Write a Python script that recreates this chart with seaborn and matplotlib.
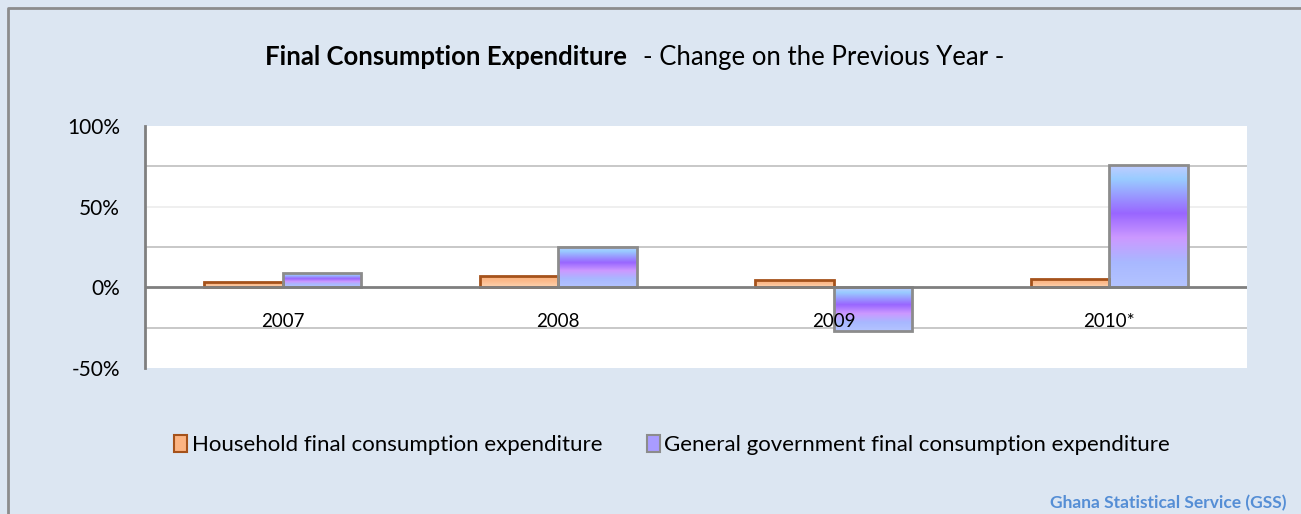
import numpy as np
import pandas as pd
import matplotlib.pyplot as plt
import seaborn as sns
from matplotlib.colors import LinearSegmentedColormap
from matplotlib.patches import Patch
from matplotlib.lines import Line2D

years = ['2007', '2008', '2009', '2010*']
household = [3.0, 6.8, 4.3, 4.9]
government = [8.6, 25.3, -27.0, 76.0]
series = ['Household final consumption expenditure',
          'General government final consumption expenditure']

df = pd.DataFrame({
    'year': years * 2,
    'value': household + government,
    'series': [series[0]] * 4 + [series[1]] * 4,
})

sns.set_style('white')
plt.rcParams['font.family'] = ['Lato', 'DejaVu Sans']
plt.rcParams['text.color'] = 'black'
plt.rcParams['ytick.color'] = 'black'

bg = '#dce6f2'
fig = plt.figure(figsize=(13.01, 5.14), dpi=100, facecolor=bg, edgecolor=bg, linewidth=0)
# outer border: only top and left edges are inside the picture
bx, by = 8 / 1301, 1 - 8 / 514
fig.lines.append(Line2D([bx, bx, 1.0], [0.0, by, by], transform=fig.transFigure,
                        color='#8c8c8c', linewidth=2))
ax = fig.add_axes([145 / 1301, 1 - 368 / 514, (1247 - 145) / 1301, (368 - 126) / 514])
ax.set_facecolor('white')

sns.barplot(data=df, x='year', y='value', hue='series', order=years, hue_order=series,
            palette=['#fcb482', '#a9b4ff'], width=0.57, gap=0, ax=ax, legend=False,
            zorder=3)

# gradient fills clipped to each bar
gov_cmap = LinearSegmentedColormap.from_list('gov', [
    (0.0, '#c4ccff'), (0.12, '#99ccff'), (0.4, '#9966ff'), (0.6, '#cc99ff'),
    (0.8, '#a8b8ff'), (1.0, '#b4c4ff')])
hh_cmap = LinearSegmentedColormap.from_list('hh', ['#fbb07a', '#fcbc8e', '#fdd3b0'])
grad = np.linspace(0, 1, 256).reshape(-1, 1)

for cont, cmap, ec in zip(ax.containers, [hh_cmap, gov_cmap], ['#a5521b', '#8c8c8c']):
    for p in cont.patches:
        x0, w = p.get_x(), p.get_width()
        y0, h = p.get_y(), p.get_height()
        lo, hi = min(y0, y0 + h), max(y0, y0 + h)
        p.set_facecolor('none')
        p.set_edgecolor(ec)
        p.set_linewidth(2)
        p.set_zorder(4)
        im = ax.imshow(grad, cmap=cmap, aspect='auto', origin='upper',
                       extent=(x0, x0 + w, lo, hi), zorder=3)
        im.set_clip_path(p)

ax.set_xlim(-0.5, 3.5)
ax.set_ylim(-50, 100)
ax.set_yticks([-50, 0, 50, 100])
ax.set_yticklabels(['-50%', '0%', '50%', '100%'])
ax.tick_params(axis='y', length=0, pad=18, labelsize=15)
ax.set_xticks([])
ax.set_xlabel('')
ax.set_ylabel('')

for yv, c in [(75, '#bfbfbf'), (50, '#ececec'), (25, '#bfbfbf'), (-25, '#bfbfbf')]:
    ax.axhline(yv, color=c, linewidth=1.2, zorder=1)
ax.axhline(0, color='#7f7f7f', linewidth=2, zorder=5)

for s in ['top', 'right', 'bottom']:
    ax.spines[s].set_visible(False)
ax.spines['left'].set_color('#7f7f7f')
ax.spines['left'].set_linewidth(2)

for i, yr in enumerate(years):
    ax.text(i, -21, yr, ha='center', va='center', fontsize=13.5, zorder=6)

# title
t1 = fig.text(265 / 1301, 1 - 57 / 514, 'Final Consumption Expenditure', fontsize=18.5,
              fontweight='bold', ha='left', va='center')
fig.canvas.draw()
bb = t1.get_window_extent()
fig.text((bb.x1 + 16) / 1301, 1 - 57 / 514, '- Change on the Previous Year -',
         fontsize=18.5, ha='left', va='center')

handles = [Patch(facecolor='#fcb482', edgecolor='#a5521b', linewidth=1.5),
           Patch(facecolor='#a99cff', edgecolor='#8c8c8c', linewidth=1.5)]
fig.legend(handles, series, loc='center', bbox_to_anchor=(672 / 1301, 1 - 445 / 514),
           ncol=2, frameon=False, fontsize=16, handlelength=0.6, handleheight=0.8,
           handletextpad=0.2, columnspacing=2.0)

fig.text(1287 / 1301, 1 - 503 / 514, 'Ghana Statistical Service (GSS)', ha='right',
         va='center', fontsize=12.5, fontweight='bold', color='#558ed5')

fig.savefig('out.png', dpi=100, facecolor=bg, edgecolor=bg)
